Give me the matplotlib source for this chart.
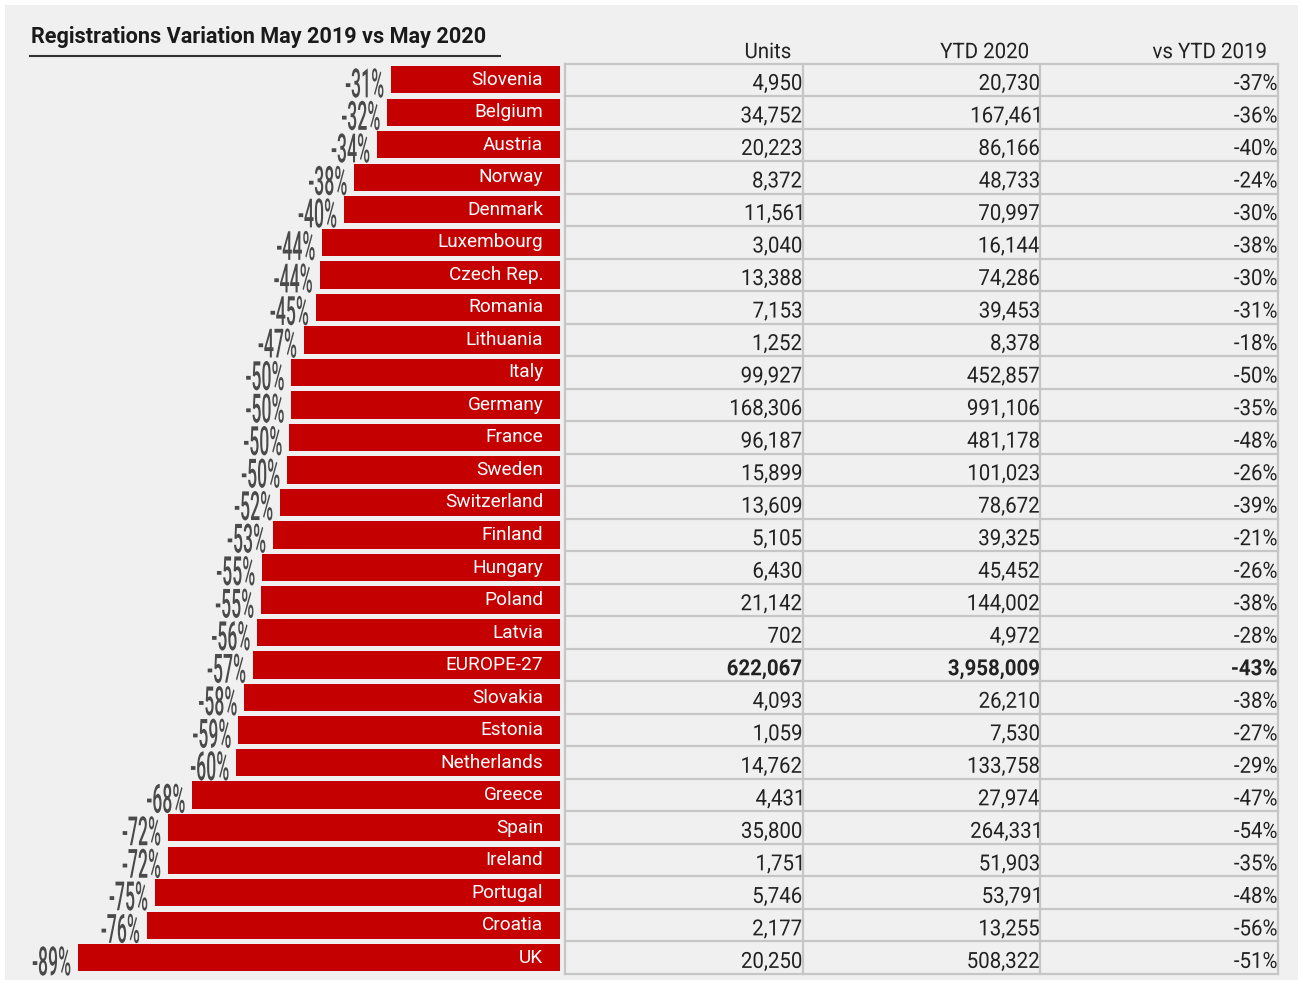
import matplotlib
matplotlib.use('Agg')
import matplotlib.pyplot as plt
from matplotlib.textpath import TextPath
from matplotlib.patches import PathPatch, Rectangle
from matplotlib.font_manager import FontProperties
from matplotlib.transforms import Affine2D, ScaledTranslation
from matplotlib.lines import Line2D

# data
countries = ['Slovenia', 'Belgium', 'Austria', 'Norway', 'Denmark', 'Luxembourg',
             'Czech Rep.', 'Romania', 'Lithuania', 'Italy', 'Germany', 'France',
             'Sweden', 'Switzerland', 'Finland', 'Hungary', 'Poland', 'Latvia',
             'EUROPE-27', 'Slovakia', 'Estonia', 'Netherlands', 'Greece', 'Spain',
             'Ireland', 'Portugal', 'Croatia', 'UK']
may_variation = [-31.2, -31.9, -33.8, -38.0, -39.9, -43.9, -44.4, -45.1, -47.3, -49.6,
                 -49.6, -50.0, -50.4, -51.7, -53.0, -55.0, -55.2, -55.9, -56.7, -58.3,
                 -59.4, -59.8, -67.9, -72.4, -72.4, -74.8, -76.3, -89.0]
units = [4950, 34752, 20223, 8372, 11561, 3040, 13388, 7153, 1252, 99927, 168306, 96187,
         15899, 13609, 5105, 6430, 21142, 702, 622067, 4093, 1059, 14762, 4431, 35800,
         1751, 5746, 2177, 20250]
ytd_2020 = [20730, 167461, 86166, 48733, 70997, 16144, 74286, 39453, 8378, 452857, 991106,
            481178, 101023, 78672, 39325, 45452, 144002, 4972, 3958009, 26210, 7530,
            133758, 27974, 264331, 51903, 53791, 13255, 508322]
vs_ytd_2019 = [-37, -36, -40, -24, -30, -38, -30, -31, -18, -50, -35, -48, -26, -39, -21,
               -26, -38, -28, -43, -38, -27, -29, -47, -54, -35, -48, -56, -51]
headers = ['Units', 'YTD 2020', 'vs YTD 2019']
total_row = 'EUROPE-27'

W, H = 1303, 985
RED = '#c40000'
GRID = '#c6c6c6'
INK = '#222222'

fig = plt.figure(figsize=(W / 100, H / 100), dpi=100, facecolor='white')
fig.patches.append(Rectangle((5 / W, 5 / H), 1293 / W, 975 / H, transform=fig.transFigure,
                             facecolor='#f0f0f0', edgecolor='none', zorder=-1))


def squeezed(ax, x, y, s, size, sx, color, weight='normal'):
    # text drawn as a path (so it can be narrowed), right aligned, centred on cap height
    fp = FontProperties(family='Roboto', size=size, weight=weight)
    tp = TextPath((0, 0), s, prop=fp)
    ext = tp.get_extents()
    k = fig.dpi / 72.0
    tr = (Affine2D().translate(-ext.x1, -0.355 * size).scale(k * sx, k)
          + ScaledTranslation(x, y, ax.transData))
    ax.add_patch(PathPatch(tp, transform=tr, facecolor=color, edgecolor='none',
                           clip_on=False, lw=0))


n = len(countries)
rows = list(range(n))
top, bottom = 63.5, 974.0

# bars
ax = fig.add_axes([20 / W, 1 - bottom / H, 540 / W, (bottom - top) / H])
ax.set_facecolor('none')
ax.barh(rows, may_variation, height=0.84, color=RED)
for i, v in enumerate(may_variation):
    ax.text(-3.1, i, countries[i], ha='right', va='center', color='white',
            fontsize=13.7, family='Roboto')
    squeezed(ax, v - 1.4, i + 0.1, '%d%%' % round(v), 29, 0.44, '#4a4a4a', weight='medium')
ax.set_xlim(-99.7, 0)
ax.set_ylim(n - 0.5, -0.5)
ax.axis('off')

# table
tx = fig.add_axes([565 / W, 1 - bottom / H, 713 / W, (bottom - top) / H])
tx.set_facecolor('none')
tx.set_xlim(0, 3)
tx.set_ylim(n - 0.5, -0.5)
tx.axis('off')
for i in range(n + 1):
    tx.plot([0, 3], [i - 0.5, i - 0.5], color=GRID, lw=1.6, clip_on=False)
for c in range(4):
    tx.plot([c, c], [-0.5, n - 0.5], color=GRID, lw=1.6, clip_on=False)
for c, h in enumerate(headers):
    squeezed(tx, c + 1 - 0.052, -0.9, h, 15.5, 0.95, INK)
for i in rows:
    w = 'bold' if countries[i] == total_row else 'normal'
    cells = ['{:,}'.format(units[i]), '{:,}'.format(ytd_2020[i]), '%d%%' % vs_ytd_2019[i]]
    for c, s in enumerate(cells):
        squeezed(tx, c + 1 - 0.006, i + 0.07, s, 16, 0.92, INK, weight=w)

# title
fig.text(31 / W, 1 - 37 / H, 'Registrations Variation May 2019 vs May 2020', ha='left',
         va='center', fontsize=15.6, weight='bold', family='Roboto', color='#1a1a1a')
fig.add_artist(Line2D([30 / W, 500 / W], [1 - 56 / H, 1 - 56 / H], color='#333333', lw=1.5))

fig.savefig('out.png', dpi=100)
